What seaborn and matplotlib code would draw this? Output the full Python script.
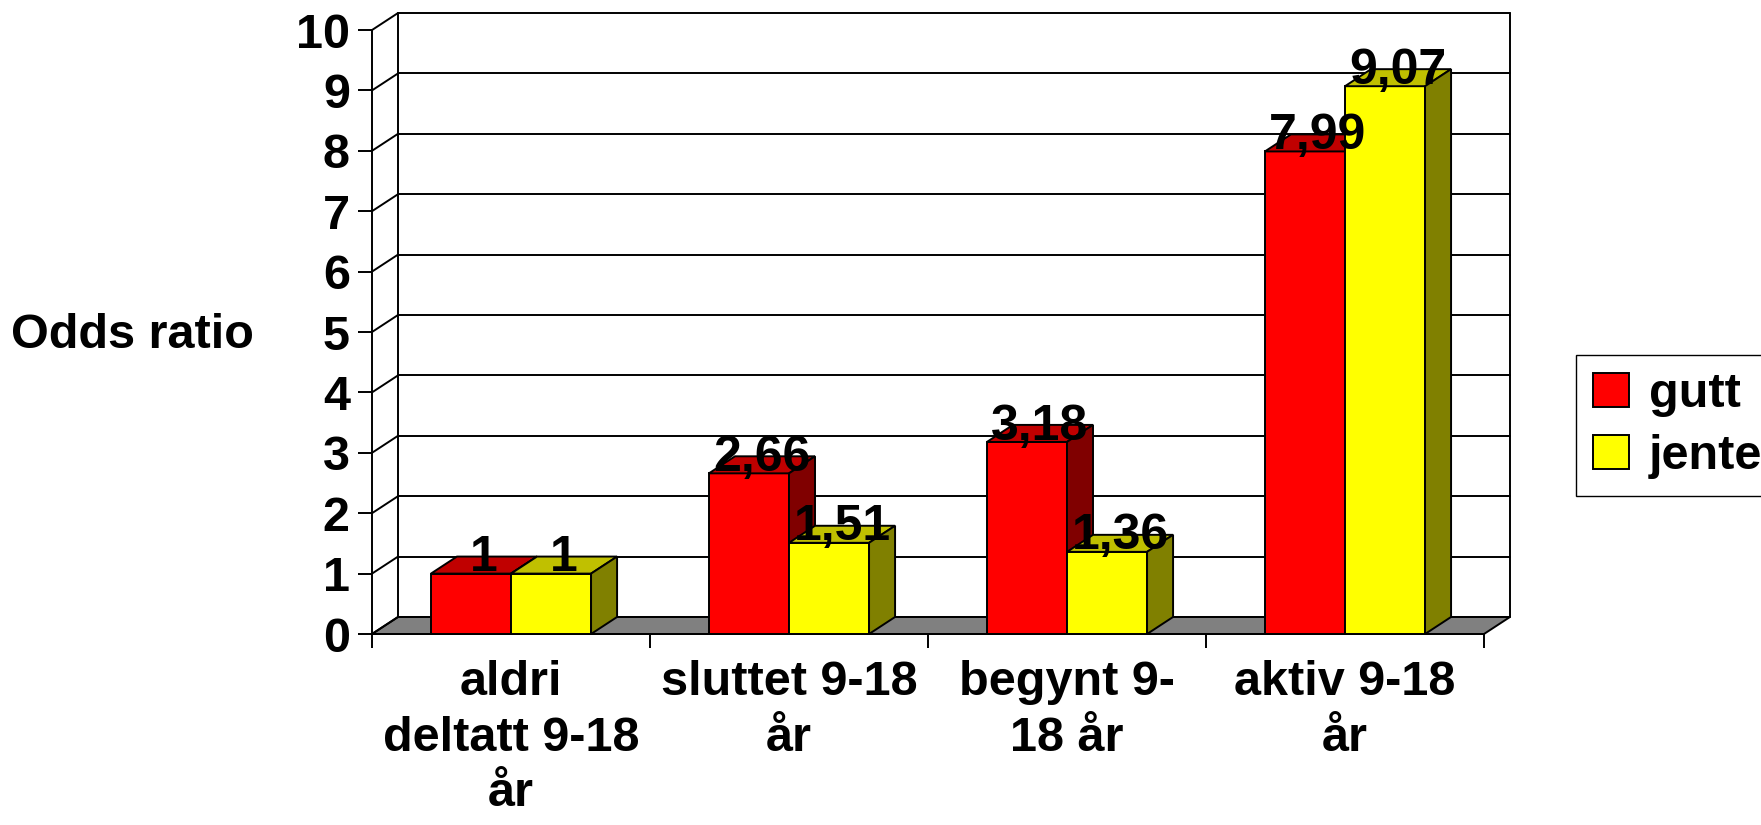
import seaborn as sns, matplotlib.pyplot as plt, numpy as np
import pandas as pd
from matplotlib.patches import Polygon

categories = ["aldri\ndeltatt 9-18\når", "sluttet 9-18\når", "begynt 9-\n18 år", "aktiv 9-18\når"]
groups = ["gutt", "jente"]
gutt = [1, 2.66, 3.18, 7.99]
jente = [1, 1.51, 1.36, 9.07]

front_colors = {"gutt": "#FF0000", "jente": "#FFFF00"}
top_colors = {"gutt": "#C00000", "jente": "#C0C000"}
side_colors = {"gutt": "#800000", "jente": "#808000"}

df = pd.DataFrame({
    "kategori": categories * 2,
    "kjonn": ["gutt"] * 4 + ["jente"] * 4,
    "odds": gutt + jente,
})

sns.set_style("white")
plt.rcParams['font.family'] = ['Liberation Sans', 'DejaVu Sans']
plt.rcParams['font.weight'] = 'bold'
for key in ['text.color', 'axes.labelcolor', 'xtick.color', 'ytick.color']:
    plt.rcParams[key] = 'black'
FS = 35

# fake 3D depth (in data units)
dx, dy = 0.0936, 0.282

fig = plt.figure(figsize=(17.61, 8.25), dpi=100)
ax = fig.add_axes([372 / 1761, 1 - 634 / 825, (1510 - 372) / 1761, (634 - 13) / 825])

sns.barplot(data=df, x="kategori", y="odds", hue="kjonn", palette=front_colors,
            width=0.576, saturation=1, edgecolor="black", linewidth=1.4,
            errorbar=None, ax=ax)

ax.set_xlim(-0.5, 3.5 + dx)
ax.set_ylim(0, 10 + dy)
for s in ax.spines.values():
    s.set_visible(False)

# floor
ax.add_patch(Polygon([(-0.5, 0), (3.5, 0), (3.5 + dx, dy), (-0.5 + dx, dy)],
                     closed=True, facecolor="#808080", edgecolor="black", lw=1.4,
                     zorder=1, clip_on=False))
# back wall, side wall grid
lw = 1.4
for k in range(11):
    ax.plot([-0.5 + dx, 3.5 + dx], [k + dy, k + dy], color="black", lw=lw, zorder=1.5, clip_on=False)
    ax.plot([-0.5, -0.5 + dx], [k, k + dy], color="black", lw=lw, zorder=1.5, clip_on=False)
ax.plot([-0.5 + dx, -0.5 + dx], [dy, 10 + dy], color="black", lw=lw, zorder=1.5, clip_on=False)
ax.plot([3.5 + dx, 3.5 + dx], [dy, 10 + dy], color="black", lw=lw, zorder=1.5, clip_on=False)
ax.plot([-0.5, -0.5], [0, 10], color="black", lw=lw, zorder=1.5, clip_on=False)
ax.plot([-0.5, 3.5], [0, 0], color="black", lw=lw, zorder=1.6, clip_on=False)

# bar tops and sides
n = len(categories)
for k, p in enumerate(ax.patches[:2 * n]):
    level = groups[k // n]
    x0, w, h = p.get_x(), p.get_width(), p.get_height()
    z = 10 + (k % n) * 4 + (k // n) * 2
    p.set_zorder(z)
    top = Polygon([(x0, h), (x0 + w, h), (x0 + w + dx, h + dy), (x0 + dx, h + dy)],
                  closed=True, facecolor=top_colors[level], edgecolor="black", lw=1.4, zorder=z + 0.5)
    side = Polygon([(x0 + w, 0), (x0 + w + dx, dy), (x0 + w + dx, h + dy), (x0 + w, h)],
                   closed=True, facecolor=side_colors[level], edgecolor="black", lw=1.4, zorder=z + 0.5)
    ax.add_patch(top)
    ax.add_patch(side)
    lab = f"{h:g}".replace(".", ",")
    ax.text(x0 + w / 2 + dx / 2, h + 0.04, lab, ha="center", va="baseline",
            fontsize=FS + 1, fontweight="bold", zorder=100)

# ticks
ax.set_yticks(range(11))
ax.tick_params(axis="y", which="major", left=True, length=10, width=1.4, direction="out",
               labelsize=FS, pad=6)
ax.set_xticks(range(n))
ax.set_xticks(np.arange(-0.5, n, 1), minor=True)
ax.tick_params(axis="x", which="major", length=0, labelsize=FS, pad=19)
ax.tick_params(axis="x", which="minor", bottom=True, length=10, width=1.4, direction="out")
ax.set_xticklabels(categories, linespacing=1.3)
ax.set_xlabel("")
ax.set_ylabel("Odds ratio", fontsize=FS, fontweight="bold", rotation=0, ha="left", va="center")
ax.yaxis.set_label_coords((11 - 372) / 1138, (634 - 335) / 621)

handles, labels = ax.get_legend_handles_labels()
ax.get_legend().remove()
fig.legend(handles, labels, loc="upper left", bbox_to_anchor=(1576 / 1761, 1 - 355 / 825),
           borderaxespad=0, fontsize=FS, frameon=True, fancybox=False, framealpha=1,
           edgecolor="black", handlelength=0.75, handleheight=0.7, handletextpad=0.4,
           labelspacing=0.35, borderpad=0.35)

fig.savefig("out.png", dpi=100)
